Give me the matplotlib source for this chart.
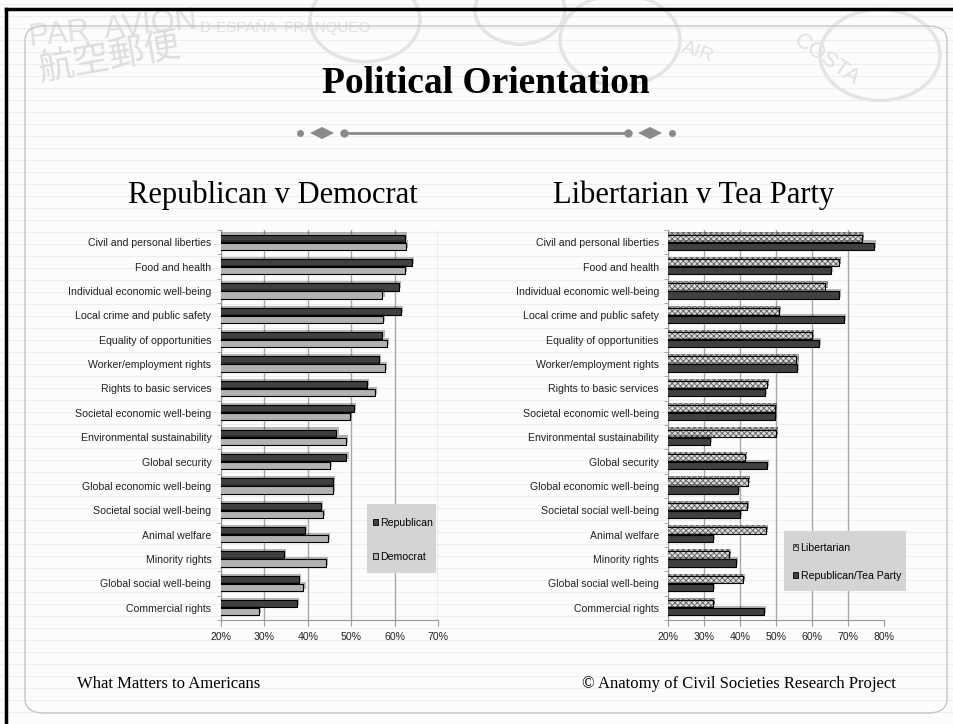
import numpy as np
import matplotlib
matplotlib.use('Agg')
import matplotlib.pyplot as plt
import matplotlib.patheffects as pe
from matplotlib.patches import FancyBboxPatch, Patch, Polygon, Circle, Rectangle
from matplotlib.lines import Line2D

W, H = 954, 724

categories = ['Civil and personal liberties', 'Food and health',
              'Individual economic well-being', 'Local crime and public safety',
              'Equality of opportunities', 'Worker/employment rights',
              'Rights to basic services', 'Societal economic well-being',
              'Environmental sustainability', 'Global security',
              'Global economic well-being', 'Societal social well-being',
              'Animal welfare', 'Minority rights', 'Global social well-being',
              'Commercial rights']

# percent of respondents, left panel
republican = [62.4, 64.0, 61.0, 61.5, 57.2, 56.4, 53.6, 50.6,
              46.6, 48.9, 45.9, 43.1, 39.3, 34.6, 37.9, 37.5]
democrat = [62.6, 62.4, 57.2, 57.4, 58.2, 57.8, 55.4, 49.7,
            48.7, 45.1, 45.7, 43.5, 44.6, 44.1, 39.0, 28.8]

# right panel
libertarian = [74.0, 67.6, 63.8, 50.9, 60.1, 55.7, 47.4, 49.6,
               49.9, 41.3, 42.3, 42.0, 47.3, 36.9, 40.8, 32.3]
tea_party = [77.3, 65.3, 67.6, 68.9, 62.0, 55.9, 47.0, 49.6,
             31.5, 47.6, 39.3, 39.9, 32.3, 38.7, 32.3, 46.7]

left_ticks = [20, 30, 40, 50, 60, 70]
right_ticks = [20, 30, 40, 50, 60, 70, 80]

DARK = '#404040'
LIGHT = '#b2b2b2'
CHECK = '#dcdcdc'
SANS = ['Liberation Sans', 'DejaVu Sans']
SERIF = ['Liberation Serif', 'DejaVu Serif']

plt.rcParams['hatch.linewidth'] = 0.6


def fx(px):
    return px / W


def fy(py):
    return 1 - py / H


def shadow():
    return [pe.SimplePatchShadow(offset=(1.5, 1.5), shadow_rgbFace='#000000',
                                 alpha=0.28), pe.Normal()]


def setup_axes(ax, ticks):
    n = len(categories)
    y = np.arange(n)
    ax.set_facecolor('none')
    ax.set_ylim(n - 0.55, -0.45)
    ax.set_xlim(ticks[0], ticks[-1])
    ax.set_yticks(y)
    ax.set_yticklabels(categories, fontsize=7.6, family=SANS, color='#222222')
    ax.tick_params(axis='y', length=0, pad=7)
    ax.set_yticks(np.arange(n + 1) - 0.5, minor=True)
    ax.tick_params(axis='y', which='minor', length=3, color='#999999')
    ax.set_xticks(ticks)
    ax.set_xticklabels(['%d%%' % t for t in ticks], fontsize=7.6,
                       family=SANS, color='#222222')
    ax.tick_params(axis='x', length=4, color='#999999', pad=5)
    ax.grid(axis='x', color='#a8a8a8', lw=1.0, zorder=0)
    ax.set_axisbelow(True)
    for s in ['top', 'right']:
        ax.spines[s].set_visible(False)
    for s in ['left', 'bottom']:
        ax.spines[s].set_color('#999999')
    return y


def legend_box(ax, handles, center, box, spacing):
    # grey panel behind the legend, then the entries on top of it
    x0, y0, x1, y1 = box
    ax.add_patch(Rectangle((fx(x0), fy(y1)), fx(x1) - fx(x0), fy(y0) - fy(y1),
                           transform=fig.transFigure, fc='#d4d4d4', ec='none',
                           clip_on=False, zorder=4.5))
    ax.legend(handles=handles, loc='center',
              bbox_to_anchor=(fx(center[0]), fy(center[1])),
              bbox_transform=fig.transFigure,
              prop={'family': SANS, 'size': 7.6},
              handlelength=0.5, handleheight=0.5, handletextpad=0.2,
              labelspacing=spacing, borderpad=0, borderaxespad=0,
              frameon=False)


fig = plt.figure(figsize=(W / 100, H / 100), dpi=100)
fig.patch.set_facecolor('#fcfcfc')

# ruled paper lines
for py in np.arange(4, H, 12):
    fig.add_artist(Line2D([0, 1], [fy(py), fy(py)], color='#eeeeee', lw=0.8,
                          zorder=-5))

# faded stamps along the top
stamp = '#e0e0e0'
fig.text(fx(28), fy(46), 'PAR  AVION', fontsize=22, color=stamp, rotation=6,
         family=SANS, zorder=-4)
fig.text(fx(35), fy(80), '航空郵便', fontsize=26, color='#dddddd', rotation=10,
         family=['Noto Sans CJK JP', 'DejaVu Sans'], zorder=-4)
fig.text(fx(200), fy(32), 'D·ESPAÑA  FRANQUEO', fontsize=11, color=stamp,
         family=SANS, zorder=-4)
fig.text(fx(790), fy(85), 'COSTA', fontsize=16, color=stamp, rotation=-35,
         family=SANS, zorder=-4)
fig.text(fx(680), fy(62), 'AIR', fontsize=14, color=stamp, rotation=-20,
         family=SANS, zorder=-4)
for cx, cy, r in [(365, 20, 55), (620, 40, 60), (880, 55, 60), (520, 10, 45)]:
    fig.add_artist(Circle((fx(cx), fy(cy)), r / W, transform=fig.transFigure,
                          fill=False, ec='#e4e4e4', lw=2.5, zorder=-4))

# slide frame
fig.add_artist(Line2D([fx(6), fx(6)], [fy(9), 0], color='k', lw=2.5))
fig.add_artist(Line2D([fx(6), 1], [fy(9), fy(9)], color='k', lw=2.5))
fig.add_artist(FancyBboxPatch((fx(25), fy(713)), fx(947) - fx(25),
                              fy(26) - fy(713),
                              boxstyle='round,pad=0,rounding_size=0.02',
                              transform=fig.transFigure, fill=False,
                              ec='#c6c6c6', lw=1.0, zorder=-3))

fig.text(fx(486), fy(93), 'Political Orientation', fontsize=27,
         fontweight='bold', family=SERIF, ha='center', va='baseline')

# ornament under the title
orn = '#8a8a8a'
fig.add_artist(Line2D([fx(344), fx(628)], [fy(133), fy(133)], color=orn, lw=2))
for px, ms in [(344, 5), (628, 5), (300, 4), (672, 4)]:
    fig.add_artist(Line2D([fx(px)], [fy(133)], marker='o', ms=ms, color=orn))
for px in [322, 650]:
    fig.add_artist(Polygon([(fx(px - 12), fy(133)), (fx(px), fy(127)),
                            (fx(px + 12), fy(133)), (fx(px), fy(139))],
                           closed=True, transform=fig.transFigure, fc=orn,
                           ec='none'))

fig.text(fx(418), fy(203), 'Republican v Democrat', fontsize=22, family=SERIF,
         ha='right', va='baseline')
fig.text(fx(553), fy(203), 'Libertarian v Tea Party', fontsize=22,
         family=SERIF, ha='left', va='baseline')

fig.text(fx(77), fy(688), 'What Matters to Americans', fontsize=12,
         family=SERIF, ha='left', va='baseline')
fig.text(fx(896), fy(688), '© Anatomy of Civil Societies Research Project',
         fontsize=12, family=SERIF, ha='right', va='baseline')

bh = 0.3
off = 0.165

# left panel: Republican v Democrat
ax1 = fig.add_axes([fx(221), fy(620), fx(438) - fx(221), fy(230) - fy(620)])
y = setup_axes(ax1, left_ticks)
b1 = ax1.barh(y - off, republican, height=bh, color=DARK, ec='k', lw=0.8,
              zorder=3)
b2 = ax1.barh(y + off, democrat, height=bh, color=LIGHT, ec='k', lw=0.8,
              zorder=3)
for b in list(b1) + list(b2):
    b.set_path_effects(shadow())
legend_box(ax1, [Patch(fc=DARK, ec='k', lw=0.6, label='Republican'),
                 Patch(fc=LIGHT, ec='k', lw=0.6, label='Democrat')],
           (403, 540), (367, 504, 436, 573), 2.3)

# right panel: Libertarian v Tea Party
ax2 = fig.add_axes([fx(668.5), fy(620), fx(883.5) - fx(668.5),
                    fy(230) - fy(620)])
y = setup_axes(ax2, right_ticks)
b3 = ax2.barh(y - off, libertarian, height=bh, color=CHECK, ec='#5a5a5a',
              lw=0, hatch='xxxxxx', zorder=3)
ax2.barh(y - off, libertarian, height=bh, fill=False, ec='k', lw=0.8,
         zorder=4)
b4 = ax2.barh(y + off, tea_party, height=bh, color=DARK, ec='k', lw=0.8,
              zorder=3)
for b in list(b3) + list(b4):
    b.set_path_effects(shadow())
legend_box(ax2, [Patch(fc=CHECK, ec='#333333', lw=0.6, hatch='xxxx',
                       label='Libertarian'),
                 Patch(fc=DARK, ec='k', lw=0.6, label='Republican/Tea Party')],
           (847, 562), (784, 531, 906, 591), 1.75)

fig.savefig('out.png', dpi=100, facecolor=fig.get_facecolor())
